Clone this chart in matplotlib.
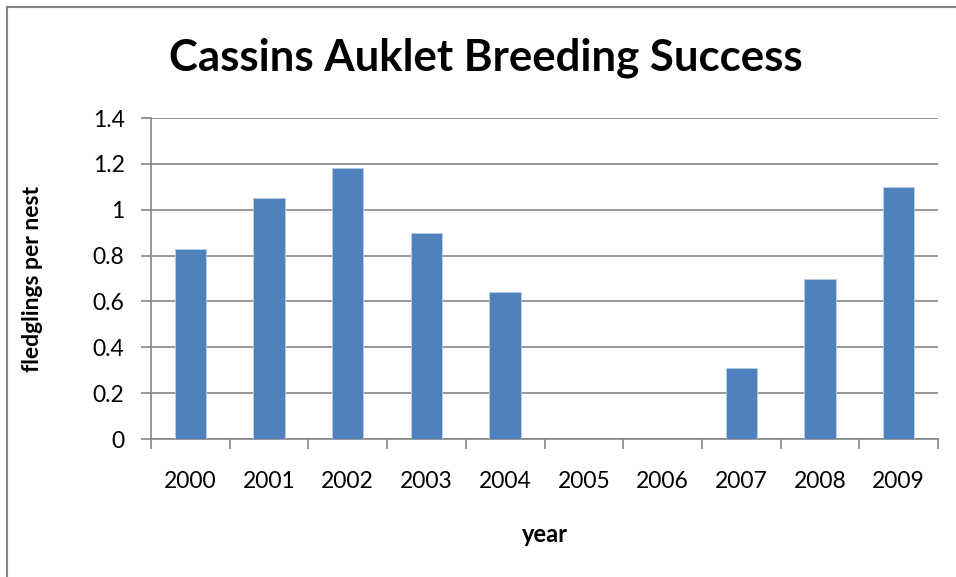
import matplotlib
matplotlib.use("Agg")
import matplotlib.pyplot as plt
from matplotlib.lines import Line2D
import numpy as np

years = ["2000", "2001", "2002", "2003", "2004", "2005", "2006", "2007", "2008", "2009"]
fledglings = [0.83, 1.05, 1.18, 0.90, 0.64, 0.0, 0.0, 0.31, 0.70, 1.10]
yticks = [0, 0.2, 0.4, 0.6, 0.8, 1, 1.2, 1.4]
ytick_labels = ["0", "0.2", "0.4", "0.6", "0.8", "1", "1.2", "1.4"]

plt.rcParams["font.family"] = ["Lato", "DejaVu Sans"]

W, H = 956, 577
fig = plt.figure(figsize=(W / 100, H / 100), dpi=100)
fig.patch.set_facecolor("white")

# outer chart border (top & left visible)
fig.add_artist(Line2D([7 / W, 7 / W], [0, 1 - 7 / H], transform=fig.transFigure,
                      color="#868686", lw=1.5))
fig.add_artist(Line2D([7 / W, 1], [1 - 7 / H, 1 - 7 / H], transform=fig.transFigure,
                      color="#868686", lw=1.5))

left, right = 151 / W, 938 / W
bottom, top = 1 - 439 / H, 1 - 118 / H
ax = fig.add_axes([left, bottom, right - left, top - bottom])

x = np.arange(len(years))
ax.bar(x, fledglings, width=0.4, color="#4F81BD", edgecolor="#B9CDE5", linewidth=0.6, zorder=3)

ax.set_xlim(-0.5, len(years) - 0.5)
ax.set_ylim(0, 1.4)
ax.set_yticks(yticks)
ax.set_yticklabels(ytick_labels, fontsize=16.5)
ax.yaxis.grid(True, color="#868686", lw=1.2, zorder=0)

ax.set_xticks(x)
ax.set_xticklabels(years, fontsize=16.5)
ax.set_xticks(np.arange(-0.5, len(years), 1), minor=True)
ax.tick_params(axis="x", which="major", length=0, pad=23)
ax.tick_params(axis="x", which="minor", length=7, color="#868686", width=1.2, direction="out")
ax.tick_params(axis="y", length=7, color="#868686", width=1.2, direction="out", pad=12)

for s in ["top", "right"]:
    ax.spines[s].set_visible(False)
for s in ["left", "bottom"]:
    ax.spines[s].set_color("#868686")
    ax.spines[s].set_linewidth(1.2)

ax.set_xlabel("year", fontsize=17, fontweight="bold")
ax.set_ylabel("fledglings per nest", fontsize=16.5, fontweight="bold")
ax.xaxis.set_label_coords(0.5, (439 - 535) / 321, transform=ax.transAxes)
ax.yaxis.set_label_coords((33 - 151) / 787, 0.5, transform=ax.transAxes)
ax.xaxis.label.set_va("center")
ax.yaxis.label.set_va("center")

fig.text(486 / W, 1 - 58 / H, "Cassins Auklet Breeding Success", fontsize=31.5,
         fontweight="bold", ha="center", va="center")

fig.savefig("out.png", dpi=100, facecolor="white")
